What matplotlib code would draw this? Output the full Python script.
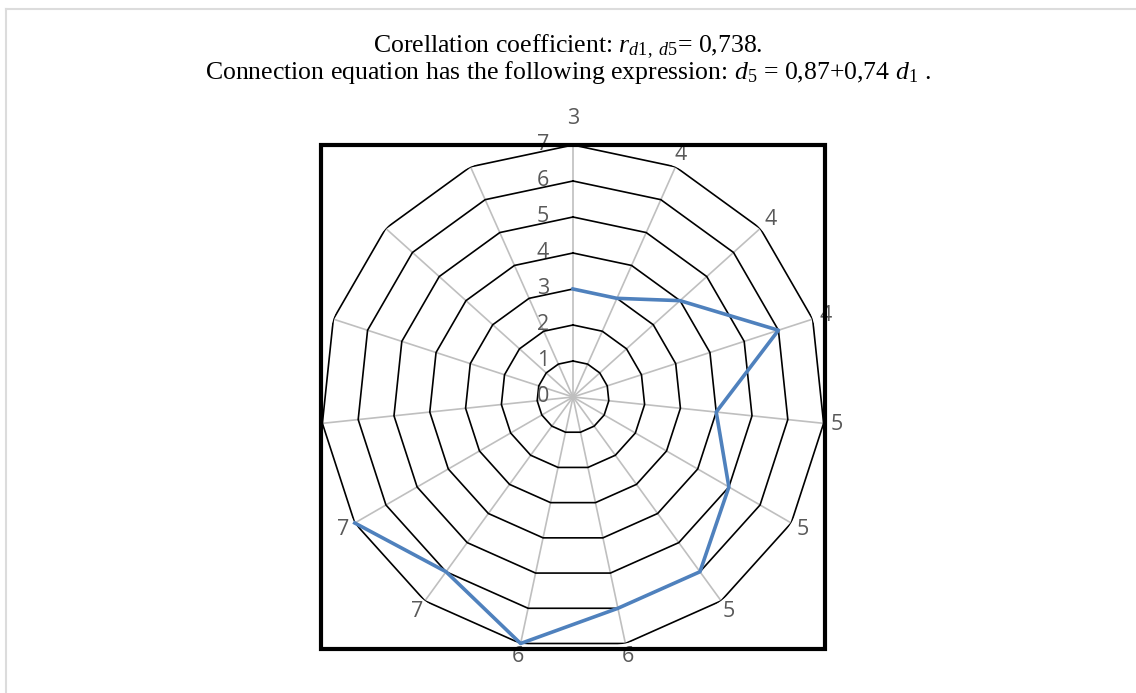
import numpy as np
import matplotlib
matplotlib.use("Agg")
import matplotlib.pyplot as plt
from matplotlib.patches import Rectangle
from matplotlib.lines import Line2D

# categories are d1 values, series is d5; last four spokes carry no data
categories = ["3", "4", "4", "4", "5", "5", "5", "6", "6", "7", "7", "", "", "", ""]
d5_values = [3, 3, 4, 6, 4, 5, 6, 6, 7, 6, 7, np.nan, np.nan, np.nan, np.nan]
radial_ticks = [0, 1, 2, 3, 4, 5, 6, 7]

title_line1 = r"Corellation coefficient: $r_{\mathit{d1,\ d5}}$= 0,738."
title_line2 = (r"Connection equation has the following expression: "
               r"$d_{\mathit{5}}$ = 0,87+0,74 $d_{\mathit{1}}$ .")

plt.rcParams["mathtext.fontset"] = "custom"
plt.rcParams["mathtext.rm"] = "Liberation Serif"
plt.rcParams["mathtext.it"] = "Liberation Serif:italic"

W, H = 1136, 693
fig = plt.figure(figsize=(W / 100, H / 100), dpi=100)

# polar area: centre (573, 397) px, radius 252 px
cx, cy, rad = 573, 397, 252
ax = fig.add_axes([(cx - rad) / W, (H - cy - rad) / H, 2 * rad / W, 2 * rad / H],
                  projection="polar")
ax.set_theta_zero_location("N")
ax.set_theta_direction(-1)
ax.set_ylim(0, max(radial_ticks))
ax.set_xticks([])
ax.set_yticks([])
ax.grid(False)
ax.spines["polar"].set_visible(False)
ax.patch.set_visible(False)

n = len(categories)
theta = np.arange(n) * 2 * np.pi / n
theta_closed = np.append(theta, theta[0])
rmax = max(radial_ticks)

# spokes
for t in theta:
    ax.plot([t, t], [0, rmax], color="#BFBFBF", lw=1.2, zorder=1)

# polygon rings
for r in radial_ticks[1:]:
    ax.plot(theta_closed, [r] * (n + 1), color="black", lw=1.2, zorder=2)

# data
ax.plot(theta, d5_values, color="#4F81BD", lw=2.6, zorder=3, clip_on=False)

grey = "#595959"
lab_size = 15.5
for i, (t, lab) in enumerate(zip(theta, categories)):
    r_lab = 7.75 if i == 0 else 7.37
    ax.text(t, r_lab, lab, ha="center", va="center", fontsize=lab_size,
            color=grey, family="Open Sans", clip_on=False)

for r in radial_ticks:
    ax.annotate(str(r), xy=(0, r), xytext=(-21.6, 0), textcoords="offset points",
                ha="center", va="center", fontsize=lab_size, color=grey,
                family="Open Sans", annotation_clip=False)

# thick plot-area frame
ax.add_patch(Rectangle((0, 0), 1, 1, transform=ax.transAxes, fill=False,
                       edgecolor="black", lw=3, clip_on=False, zorder=4))

# title lines
fig.text(0.5, 1 - 52.5 / H, title_line1, ha="center", va="baseline",
         fontsize=18.5, family="Liberation Serif")
fig.text(0.5, 1 - 79 / H, title_line2, ha="center", va="baseline",
         fontsize=18.5, family="Liberation Serif")

# light outer border (top and left edges)
fig.add_artist(Line2D([5.5 / W, 1], [1 - 8.5 / H, 1 - 8.5 / H], color="#DCDCDC",
                      lw=1.5, transform=fig.transFigure))
fig.add_artist(Line2D([5.5 / W, 5.5 / W], [0, 1 - 8.5 / H], color="#DCDCDC",
                      lw=1.5, transform=fig.transFigure))

fig.savefig("out.png", dpi=100)
